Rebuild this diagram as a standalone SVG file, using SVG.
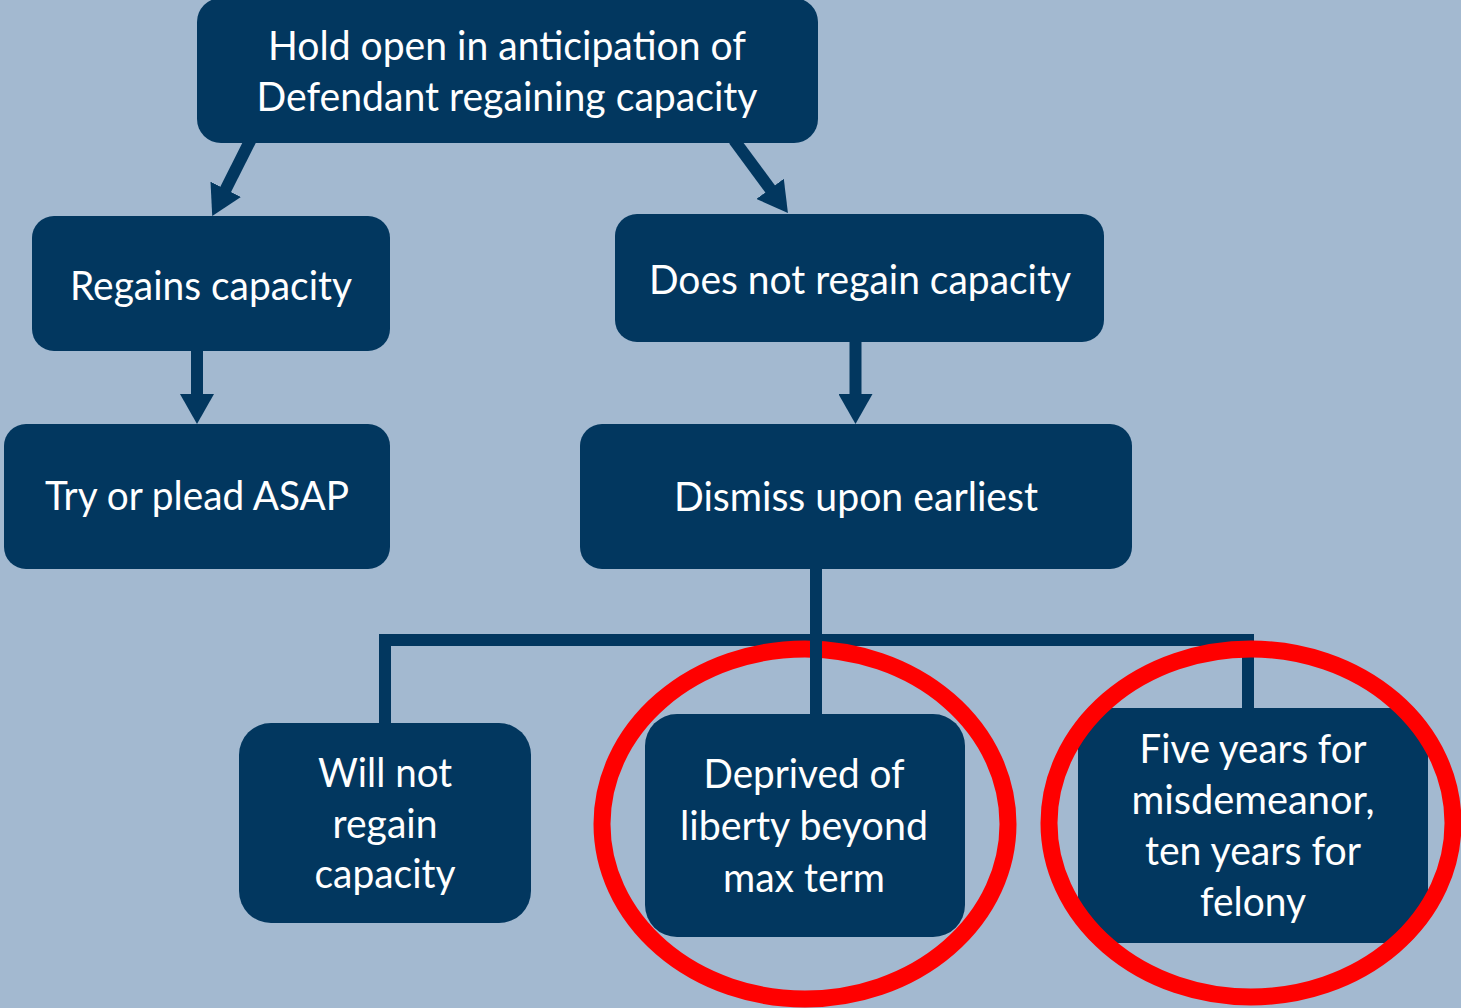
<svg xmlns="http://www.w3.org/2000/svg" width="1461" height="1008" viewBox="0 0 1461 1008">
<style>
.box{fill:#02375F;}
.t{font-family:Lato,"Open Sans","Liberation Sans",sans-serif;font-size:40px;fill:#FFFFFF;text-anchor:middle;}
.conn{stroke:#02375F;stroke-width:12;fill:none;stroke-linejoin:miter;stroke-linecap:butt;}
.ring{fill:none;stroke:#FF0000;stroke-width:17;}
</style>
<defs>
<marker id="ah" markerUnits="userSpaceOnUse" viewBox="0 0 30 34" markerWidth="30" markerHeight="34" refX="2" refY="17" orient="auto">
<path d="M0,0 L30,17 L0,34 Z" fill="#02375F"/>
</marker>
<clipPath id="clip8">
<ellipse cx="1251" cy="823" rx="210" ry="182"/>
</clipPath>
</defs>
<rect width="1461" height="1008" fill="#A3B9D0"/>
<g id="connectors">
<line class="conn" x1="250.5" y1="140" x2="224.8" y2="191.1" marker-end="url(#ah)"/>
<line class="conn" x1="734" y1="140" x2="771.3" y2="190.5" marker-end="url(#ah)"/>
<line class="conn" x1="197" y1="348" x2="197" y2="396" marker-end="url(#ah)"/>
<line class="conn" x1="855.5" y1="340" x2="855.5" y2="396" marker-end="url(#ah)"/>
<path class="conn" d="M385,726 V640 H1248 V710"/>
</g>
<g id="n1">
<rect class="box" x="197" y="-2" width="621" height="145" rx="24"/>
<text class="t" x="507" y="60" textLength="478" lengthAdjust="spacingAndGlyphs">Hold open in anticipation of</text>
<text class="t" x="507" y="111" textLength="501" lengthAdjust="spacingAndGlyphs">Defendant regaining capacity</text>
</g>
<g id="n2">
<rect class="box" x="32" y="216" width="358" height="135" rx="22"/>
<text class="t" x="211" y="300" textLength="282" lengthAdjust="spacingAndGlyphs">Regains capacity</text>
</g>
<g id="n3">
<rect class="box" x="615" y="214" width="489" height="128" rx="22"/>
<text class="t" x="860" y="294" textLength="422" lengthAdjust="spacingAndGlyphs">Does not regain capacity</text>
</g>
<g id="n4">
<rect class="box" x="4" y="424" width="386" height="145" rx="22"/>
<text class="t" x="197" y="510" textLength="304" lengthAdjust="spacingAndGlyphs">Try or plead ASAP</text>
</g>
<g id="n5">
<rect class="box" x="580" y="424" width="552" height="145" rx="22"/>
<text class="t" x="856" y="511" textLength="364" lengthAdjust="spacingAndGlyphs">Dismiss upon earliest</text>
</g>
<g id="n6">
<rect class="box" x="239" y="723" width="292" height="200" rx="32"/>
<text class="t" x="385" y="787" textLength="134" lengthAdjust="spacingAndGlyphs">Will not</text>
<text class="t" x="385" y="838" textLength="105" lengthAdjust="spacingAndGlyphs">regain</text>
<text class="t" x="385" y="888" textLength="141" lengthAdjust="spacingAndGlyphs">capacity</text>
</g>
<g id="n7">
<rect class="box" x="645" y="714" width="320" height="223" rx="32"/>
<text class="t" x="804" y="788" textLength="201" lengthAdjust="spacingAndGlyphs">Deprived of</text>
<text class="t" x="804" y="840" textLength="248" lengthAdjust="spacingAndGlyphs">liberty beyond</text>
<text class="t" x="804" y="892" textLength="162" lengthAdjust="spacingAndGlyphs">max term</text>
</g>
<g id="n8">
<rect class="box" x="1078" y="708" width="350" height="235" rx="3" clip-path="url(#clip8)"/>
<text class="t" x="1253" y="763" textLength="227" lengthAdjust="spacingAndGlyphs">Five years for</text>
<text class="t" x="1253" y="814" textLength="243" lengthAdjust="spacingAndGlyphs">misdemeanor,</text>
<text class="t" x="1253" y="865" textLength="216" lengthAdjust="spacingAndGlyphs">ten years for</text>
<text class="t" x="1253" y="916" textLength="106" lengthAdjust="spacingAndGlyphs">felony</text>
</g>
<g id="highlights">
<ellipse class="ring" cx="805" cy="824" rx="203" ry="175"/>
<ellipse class="ring" cx="1251" cy="823" rx="202" ry="174"/>
</g>
<g id="connectors-top">
<path class="conn" d="M816,566 V716"/>
</g>
</svg>
